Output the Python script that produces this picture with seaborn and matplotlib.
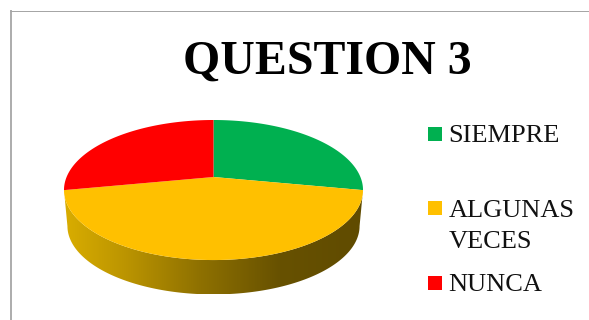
import numpy as np
import pandas as pd
import matplotlib
matplotlib.use("Agg")
import matplotlib.pyplot as plt
from matplotlib.colors import LinearSegmentedColormap
from matplotlib.patches import Polygon
import seaborn as sns

# Survey answers (percent of responses)
categories = ["SIEMPRE", "ALGUNAS\nVECES", "NUNCA"]
values = [28, 44, 28]
slice_colors = ["#00B050", "#FFC000", "#FF0000"]
title_text = "QUESTION 3"

# Shading along the front wall of the disc, left to right
wall_stops = [0.0, 0.2, 0.45, 0.72, 1.0]
wall_colors = ["#D9AD00", "#BC9500", "#8F7100", "#675100", "#604B00"]

sns.set_theme(style="white")
plt.rcParams["font.family"] = ["Liberation Serif", "DejaVu Serif"]

fig = plt.figure(figsize=(5.89, 3.20), dpi=100)
ax = fig.add_axes([0, 0, 1, 1])

# Perspective disc: pixel centre, half sizes and foreshortening factor
cx, cy = 213.5, 177.0
half_w, half_h, persp = 146.9, 67.6, 0.186
depth, shrink = 36.0, 0.977


def rim(theta):
    """Map clockwise-from-north angles on the disc to canvas positions."""
    d = 1 + persp * np.cos(theta)
    return cx + half_w * np.sin(theta) / d, cy - half_h * np.cos(theta) / d


def lower_rim(theta):
    x, y = rim(theta)
    ell_cy = cy + 13.0
    return cx + (x - cx) * shrink, ell_cy + (y - ell_cy) * shrink + depth


# Slice boundaries follow the data
edges = 2 * np.pi * np.cumsum([0] + values) / sum(values)

# Front wall of the disc, under the middle slice
front = np.linspace(edges[1], edges[2], 200)
top_x, top_y = rim(front)
low_x, low_y = lower_rim(front)
wall_xy = np.column_stack([np.r_[top_x, low_x[::-1]], np.r_[top_y, low_y[::-1]]])
wall = Polygon(wall_xy, closed=True, facecolor="none", edgecolor="none")
ax.add_patch(wall)
wall_cmap = LinearSegmentedColormap.from_list("wall", list(zip(wall_stops, wall_colors)))
shade = ax.imshow(
    np.linspace(0, 1, 256)[None, :],
    cmap=wall_cmap,
    aspect="auto",
    extent=(top_x.min(), top_x.max(), low_y.max(), top_y.min()),
    zorder=1,
)
shade.set_clip_path(wall)

# Top face slices
for start, stop, color in zip(edges[:-1], edges[1:], slice_colors):
    t = np.linspace(start, stop, 200)
    x, y = rim(t)
    ax.fill(np.r_[cx, x], np.r_[cy, y], color=color, linewidth=0, zorder=2)

# Legend keys and labels, one baseline per text line
key_x = [435, 435, 435]
key_y = [134, 208, 283]
label_baselines = [[142], [217, 247.5], [291]]
keys = pd.DataFrame({"x": key_x, "y": key_y, "answer": categories})
sns.scatterplot(
    data=keys, x="x", y="y", hue="answer", palette=slice_colors, marker="s",
    s=101, linewidth=0, legend=False, ax=ax, zorder=3,
)
for label, baselines in zip(categories, label_baselines):
    for line, y in zip(label.split("\n"), baselines):
        ax.text(448.5, y, line, fontsize=19, color="#111111", va="baseline", ha="left")

ax.text(327, 73.5, title_text, fontsize=34.5, fontweight="bold", color="black",
        ha="center", va="baseline")

# Chart frame, running off the right and bottom of the canvas
ax.plot([11, 11], [10, 320], color="#A6A6A6", linewidth=1.3, zorder=0, solid_capstyle="butt")
ax.plot([10, 589], [10.5, 10.5], color="#A6A6A6", linewidth=0.72, zorder=0, solid_capstyle="butt")

ax.set_xlim(0, 589)
ax.set_ylim(320, 0)
ax.axis("off")
fig.savefig("out.png", dpi=100, facecolor="white")
